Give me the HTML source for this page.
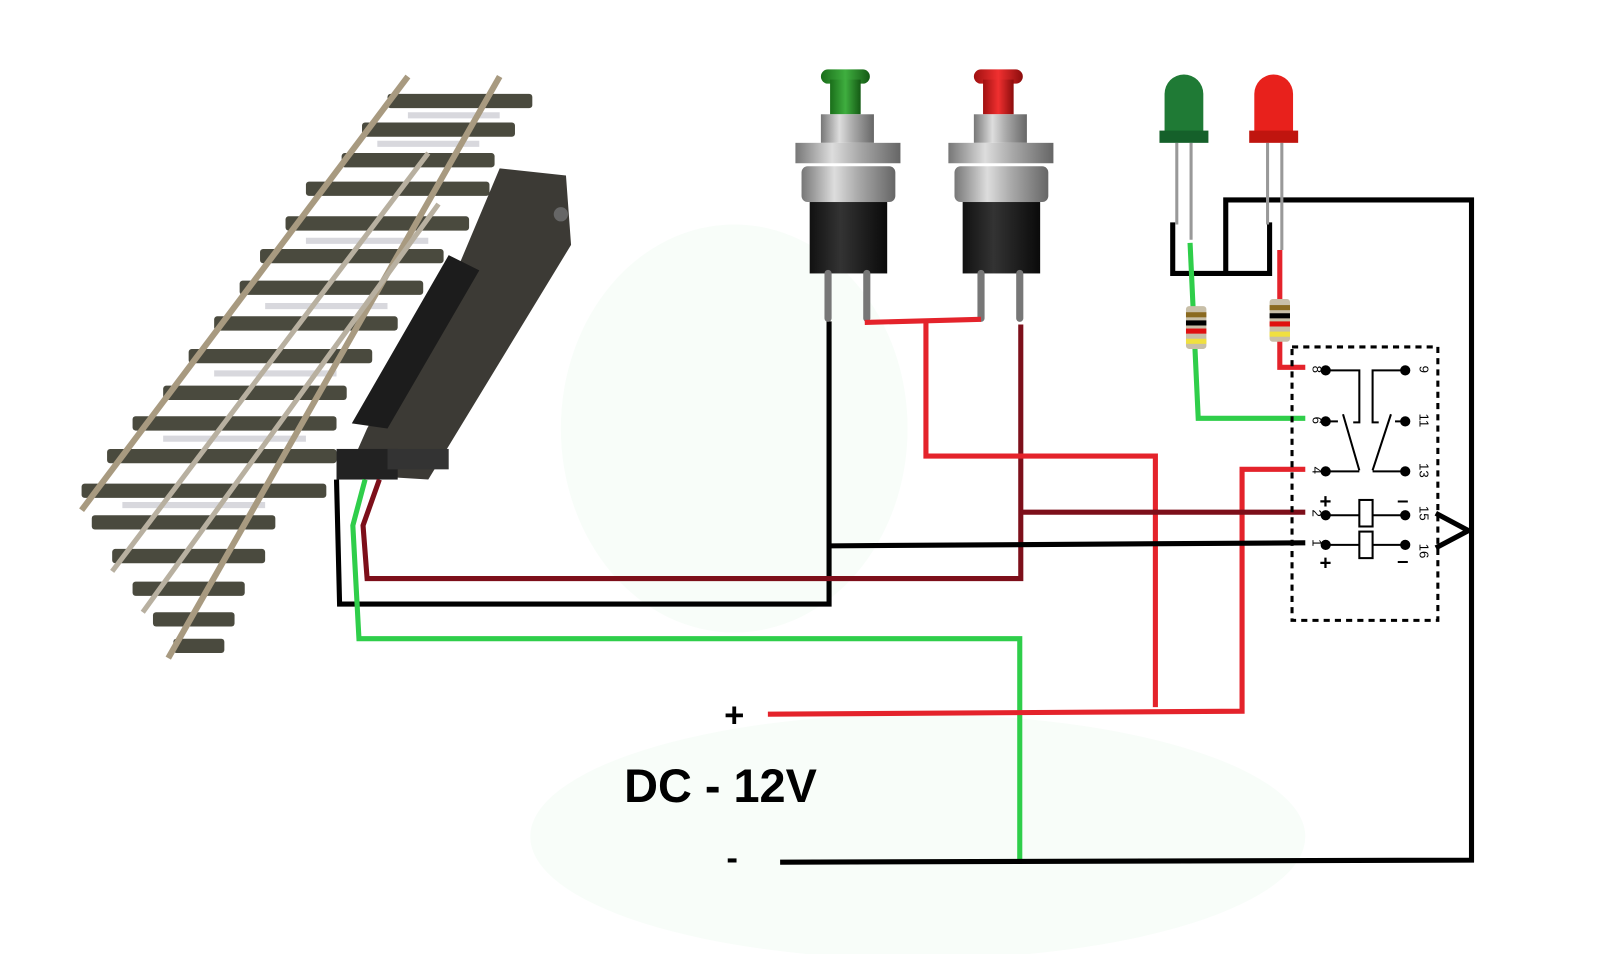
<!DOCTYPE html>
<html><head><meta charset="utf-8"><style>
html,body{margin:0;padding:0;background:#fff;width:1600px;height:954px;overflow:hidden}
svg{display:block}
</style></head><body>
<svg width="1600" height="954" viewBox="0 0 1569 935" preserveAspectRatio="none" xmlns="http://www.w3.org/2000/svg">
<defs>
<linearGradient id="chrome" x1="0" x2="1"><stop offset="0" stop-color="#777"/><stop offset=".35" stop-color="#ddd"/><stop offset=".6" stop-color="#aaa"/><stop offset="1" stop-color="#666"/></linearGradient>
<linearGradient id="blk" x1="0" x2="1"><stop offset="0" stop-color="#111"/><stop offset=".4" stop-color="#333"/><stop offset="1" stop-color="#0a0a0a"/></linearGradient>
<linearGradient id="gcap" x1="0" x2="1"><stop offset="0" stop-color="#1a6e1a"/><stop offset=".5" stop-color="#3fae3f"/><stop offset="1" stop-color="#145a14"/></linearGradient>
<linearGradient id="rcap" x1="0" x2="1"><stop offset="0" stop-color="#a01010"/><stop offset=".5" stop-color="#f03030"/><stop offset="1" stop-color="#8a0c0c"/></linearGradient>
</defs>
<ellipse cx="720" cy="420" rx="170" ry="200" fill="#f8fdf9"/>
<ellipse cx="900" cy="820" rx="380" ry="120" fill="#f8fdf9"/>

<g fill="#4a4a3e">
<rect x="380" y="92" width="142" height="14" rx="3"/>
<rect x="355" y="120" width="150" height="14" rx="3"/>
<rect x="335" y="150" width="150" height="14" rx="3"/>
<rect x="300" y="178" width="180" height="14" rx="3"/>
<rect x="280" y="212" width="180" height="14" rx="3"/>
<rect x="255" y="244" width="180" height="14" rx="3"/>
<rect x="235" y="275" width="180" height="14" rx="3"/>
<rect x="210" y="310" width="180" height="14" rx="3"/>
<rect x="185" y="342" width="180" height="14" rx="3"/>
<rect x="160" y="378" width="180" height="14" rx="3"/>
<rect x="130" y="408" width="200" height="14" rx="3"/>
<rect x="105" y="440" width="225" height="14" rx="3"/>
<rect x="80" y="474" width="240" height="14" rx="3"/>
<rect x="90" y="505" width="180" height="14" rx="3"/>
<rect x="110" y="538" width="150" height="14" rx="3"/>
<rect x="130" y="570" width="110" height="14" rx="3"/>
<rect x="150" y="600" width="80" height="14" rx="3"/>
<rect x="170" y="626" width="50" height="14" rx="3"/>
</g>
<g stroke="#c8c8d0" stroke-width="6" opacity=".7">
<line x1="400" y1="113" x2="490" y2="113"/><line x1="370" y1="141" x2="470" y2="141"/>
<line x1="300" y1="236" x2="420" y2="236"/><line x1="260" y1="300" x2="380" y2="300"/>
<line x1="210" y1="366" x2="330" y2="366"/><line x1="160" y1="430" x2="300" y2="430"/>
<line x1="120" y1="495" x2="260" y2="495"/>
</g>
<g stroke="#a89a80" stroke-width="6" fill="none">
<line x1="400" y1="75" x2="80" y2="500"/>
<line x1="490" y1="75" x2="165" y2="645"/>
</g>
<g stroke="#b8b0a0" stroke-width="5" fill="none">
<line x1="420" y1="150" x2="110" y2="560"/>
<line x1="430" y1="200" x2="140" y2="600"/>
</g>
<polygon points="490,165 555,172 560,240 420,470 340,465 360,420 450,260" fill="#3c3a35"/>
<polygon points="440,250 470,265 380,420 345,415" fill="#1c1c1c"/>
<rect x="330" y="440" width="60" height="30" fill="#222"/>
<rect x="380" y="440" width="60" height="20" fill="#333"/>
<circle cx="550" cy="210" r="7" fill="#666"/>
<path d="M330,470 L333,592 L813,592 L813,315" stroke="#000" stroke-width="5" fill="none"/>
<path d="M372,470 L356,515 L360,567 L1001,567 L1001,318" stroke="#7d0f1a" stroke-width="5" fill="none"/>
<path d="M358,470 L346,515 L352,626 L1000,626 L1000,845" stroke="#2fce4a" stroke-width="5" fill="none"/>

<g>
<rect x="805" y="68" width="48" height="14" rx="7" fill="url(#gcap)"/>
<rect x="814" y="78" width="30" height="34" fill="url(#gcap)"/>
<rect x="805" y="112" width="52" height="28" fill="url(#chrome)"/>
<rect x="780" y="140" width="103" height="20" fill="url(#chrome)"/>
<rect x="786" y="163" width="92" height="35" rx="6" fill="url(#chrome)"/>
<rect x="794" y="198" width="76" height="70" fill="url(#blk)"/>
<path d="M812,268 L812,312" stroke="#777" stroke-width="7" stroke-linecap="round"/>
<path d="M850,268 L850,312" stroke="#777" stroke-width="7" stroke-linecap="round"/>
</g>
<g>
<rect x="955" y="68" width="48" height="14" rx="7" fill="url(#rcap)"/>
<rect x="964" y="78" width="30" height="34" fill="url(#rcap)"/>
<rect x="955" y="112" width="52" height="28" fill="url(#chrome)"/>
<rect x="930" y="140" width="103" height="20" fill="url(#chrome)"/>
<rect x="936" y="163" width="92" height="35" rx="6" fill="url(#chrome)"/>
<rect x="944" y="198" width="76" height="70" fill="url(#blk)"/>
<path d="M962,268 L962,312" stroke="#777" stroke-width="7" stroke-linecap="round"/>
<path d="M1000,268 L1000,312" stroke="#777" stroke-width="7" stroke-linecap="round"/>
</g>

<g stroke="#e4232b" stroke-width="5" fill="none">
<line x1="848" y1="316" x2="962" y2="313"/>
<path d="M908,316 L908,447 L1133,447 L1133,693"/>
<path d="M753,700 L1218,697 L1218,460 L1280,460"/>
<path d="M1255,245 L1255,360 L1280,360"/>
</g>
<path d="M1001,502 L1280,502" stroke="#7d0f1a" stroke-width="5" fill="none"/>
<path d="M813,535 L1280,532" stroke="#000" stroke-width="5" fill="none"/>
<path d="M765,845 L1443,843 L1443,196 L1202,196 L1202,268" stroke="#000" stroke-width="5" fill="none"/>
<path d="M1150,218 L1150,268 L1245,268 L1245,218" stroke="#000" stroke-width="5" fill="none"/>

<g stroke="#999" stroke-width="3">
<line x1="1154" y1="140" x2="1154" y2="220"/><line x1="1168" y1="140" x2="1168" y2="235"/>
<line x1="1243" y1="140" x2="1243" y2="220"/><line x1="1257" y1="140" x2="1257" y2="245"/>
</g>
<path d="M1142,130 L1142,92 A19,19 0 0 1 1180,92 L1180,130 Z" fill="#1f7a35"/>
<rect x="1137" y="128" width="48" height="12" fill="#15602a"/>
<path d="M1230,130 L1230,92 A19,19 0 0 1 1268,92 L1268,130 Z" fill="#e8211c"/>
<rect x="1225" y="128" width="48" height="12" fill="#c0150f"/>
<path d="M1167,238 L1175,410 L1280,410" stroke="#2fce4a" stroke-width="5" fill="none"/>
<g>
<rect x="1163" y="300" width="20" height="42" rx="3" fill="#c8bfa8"/>
<rect x="1163" y="306" width="20" height="5" fill="#8a6a20"/>
<rect x="1163" y="314" width="20" height="5" fill="#000"/>
<rect x="1163" y="322" width="20" height="5" fill="#e01010"/>
<rect x="1163" y="332" width="20" height="5" fill="#f0e040"/>
<rect x="1245" y="293" width="20" height="42" rx="3" fill="#c8bfa8"/>
<rect x="1245" y="299" width="20" height="5" fill="#8a6a20"/>
<rect x="1245" y="307" width="20" height="5" fill="#000"/>
<rect x="1245" y="315" width="20" height="5" fill="#e01010"/>
<rect x="1245" y="325" width="20" height="5" fill="#f0e040"/>
</g>

<rect x="1267" y="340" width="143" height="268" fill="none" stroke="#000" stroke-width="3" stroke-dasharray="6,5"/>
<g fill="#000">
<circle cx="1300" cy="363" r="5"/><circle cx="1378" cy="363" r="5"/>
<circle cx="1300" cy="413" r="5"/><circle cx="1378" cy="413" r="5"/>
<circle cx="1300" cy="462" r="5"/><circle cx="1378" cy="462" r="5"/>
<circle cx="1300" cy="505" r="5"/><circle cx="1378" cy="505" r="5"/>
<circle cx="1300" cy="534" r="5"/><circle cx="1378" cy="534" r="5"/>
</g>
<g stroke="#000" stroke-width="2" fill="none">
<path d="M1300,363 L1333,363 L1333,414 L1327,414"/>
<path d="M1378,363 L1346,363 L1346,414 L1352,414"/>
<path d="M1300,413 L1312,413 M1317,406 L1333,461 M1300,462 L1333,462"/>
<path d="M1378,413 L1368,413 M1364,406 L1346,461 M1378,462 L1346,462"/>
<path d="M1300,505 L1333,505 M1346,505 L1378,505 M1300,534 L1333,534 M1346,534 L1378,534"/>
<rect x="1333" y="490" width="13" height="26"/>
<rect x="1333" y="521" width="13" height="26"/>
</g>
<g font-family="Liberation Sans, sans-serif" font-size="13" fill="#000">
<text transform="translate(1287,362) rotate(90)" text-anchor="middle">8</text>
<text transform="translate(1287,412) rotate(90)" text-anchor="middle">6</text>
<text transform="translate(1287,461) rotate(90)" text-anchor="middle">4</text>
<text transform="translate(1287,503) rotate(90)" text-anchor="middle">2</text>
<text transform="translate(1287,532) rotate(90)" text-anchor="middle">1</text>
<text transform="translate(1392,362) rotate(90)" text-anchor="middle">9</text>
<text transform="translate(1392,412) rotate(90)" text-anchor="middle">11</text>
<text transform="translate(1392,461) rotate(90)" text-anchor="middle">13</text>
<text transform="translate(1392,503) rotate(90)" text-anchor="middle">15</text>
<text transform="translate(1392,540) rotate(90)" text-anchor="middle">16</text>
</g>
<g font-family="Liberation Sans, sans-serif" font-weight="bold" font-size="20" fill="#000">
<text x="1294" y="498">+</text><text x="1294" y="558">+</text>
<text x="1370" y="497">–</text><text x="1370" y="556">–</text>
</g>
<path d="M1408,503 L1440,520 L1408,537" stroke="#000" stroke-width="5" fill="none"/>

<g font-family="Liberation Sans, sans-serif" font-weight="bold" fill="#000">
<text x="720" y="712" font-size="34" text-anchor="middle">+</text>
<text x="612" y="786" font-size="46">DC - 12V</text>
<text x="718" y="852" font-size="34" text-anchor="middle">-</text>
</g>
</svg>
</body></html>
